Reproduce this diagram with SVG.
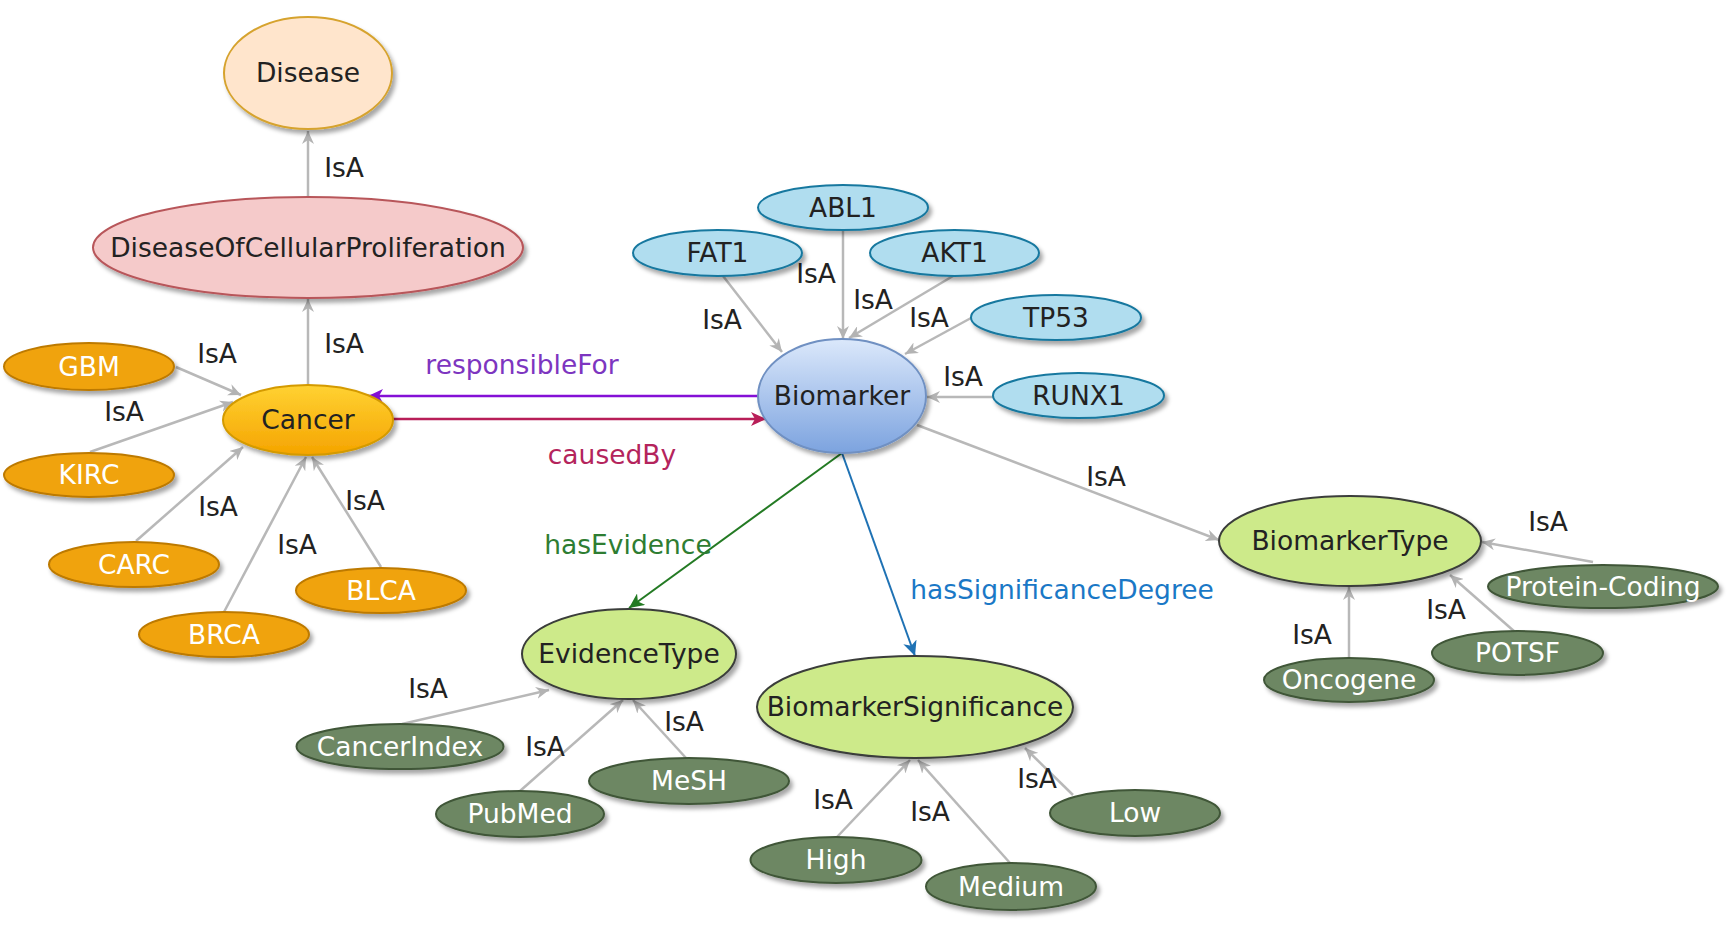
<svg xmlns="http://www.w3.org/2000/svg" width="1733" height="926" viewBox="0 0 1733 926">
<defs>
<filter id="sh" x="-20%" y="-20%" width="150%" height="160%">
<feDropShadow dx="3" dy="4" stdDeviation="2" flood-color="#000" flood-opacity="0.35"/>
</filter>
<linearGradient id="gCancer" x1="0" y1="0" x2="0" y2="1">
<stop offset="0" stop-color="#ffd233"/>
<stop offset="1" stop-color="#f5a400"/>
</linearGradient>
<linearGradient id="gBio" x1="0" y1="0" x2="0" y2="1">
<stop offset="0" stop-color="#dbe8fb"/>
<stop offset="1" stop-color="#7ca3df"/>
</linearGradient>
<marker id="aIsA" markerUnits="userSpaceOnUse" markerWidth="14" markerHeight="12" refX="13" refY="6" orient="auto">
<path d="M0,0 L13,6 L0,12 L4,6 z" fill="#b3b3b3"/>
</marker>
<marker id="aPur" markerUnits="userSpaceOnUse" markerWidth="16" markerHeight="14" refX="15" refY="7" orient="auto">
<path d="M0,0 L15,7 L0,14 L4,7 z" fill="#8410d6"/>
</marker>
<marker id="aRed" markerUnits="userSpaceOnUse" markerWidth="16" markerHeight="14" refX="15" refY="7" orient="auto">
<path d="M0,0 L15,7 L0,14 L4,7 z" fill="#b81e58"/>
</marker>
<marker id="aGrn" markerUnits="userSpaceOnUse" markerWidth="16" markerHeight="14" refX="15" refY="7" orient="auto">
<path d="M0,0 L15,7 L0,14 L4,7 z" fill="#237a23"/>
</marker>
<marker id="aBlu" markerUnits="userSpaceOnUse" markerWidth="16" markerHeight="14" refX="15" refY="7" orient="auto">
<path d="M0,0 L15,7 L0,14 L4,7 z" fill="#1f72b4"/>
</marker>
</defs>
<style>
text { font-family: "DejaVu Sans", Verdana, sans-serif; font-size: 26.5px; text-anchor: middle; }
.n ellipse { filter: url(#sh); stroke-width: 2; }
.lbl { fill: #222; }
.wt { fill: #fff; }
.dis { fill: #ffe5cc; stroke: #d6a32e; }
.docp { fill: #f5caca; stroke: #b8565a; }
.can { fill: url(#gCancer); stroke: #d49a00; }
.org { fill: #f0a30a; stroke: #bd7a05; }
.gene { fill: #b0ddef; stroke: #18789f; }
.bio { fill: url(#gBio); stroke: #6f90c2; }
.cls { fill: #cdea8a; stroke: #3a3d3a; }
.inst { fill: #6d8764; stroke: #3f5637; }
.isa { stroke: #b8b8b8; stroke-width: 2.5; fill: none; marker-end: url(#aIsA); }
.el { fill: #222; }
</style>

<g id="connectors">
<line class="isa" x1="308" y1="197" x2="308" y2="131"/>
<line class="isa" x1="308" y1="385" x2="308" y2="299"/>
<line class="isa" x1="176" y1="367" x2="241" y2="395"/>
<line class="isa" x1="90" y1="452" x2="233" y2="402"/>
<line class="isa" x1="136" y1="541" x2="243" y2="447"/>
<line class="isa" x1="224" y1="612" x2="306" y2="457"/>
<line class="isa" x1="381" y1="567" x2="312" y2="457"/>
<line class="isa" x1="723" y1="276" x2="782" y2="352"/>
<line class="isa" x1="843" y1="230" x2="843" y2="339"/>
<line class="isa" x1="953" y1="276" x2="849" y2="338"/>
<line class="isa" x1="971" y1="318" x2="905" y2="354"/>
<line class="isa" x1="993" y1="397" x2="927" y2="397"/>
<line class="isa" x1="917" y1="425" x2="1219" y2="540"/>
<line class="isa" x1="1593" y1="562" x2="1482" y2="542"/>
<line class="isa" x1="1515" y1="632" x2="1450" y2="575"/>
<line class="isa" x1="1349" y1="658" x2="1349" y2="587"/>
<line class="isa" x1="402" y1="724" x2="549" y2="690"/>
<line class="isa" x1="520" y1="791" x2="623" y2="700"/>
<line class="isa" x1="686" y1="758" x2="633" y2="700"/>
<line class="isa" x1="837" y1="837" x2="910" y2="760"/>
<line class="isa" x1="1010" y1="863" x2="918" y2="760"/>
<line class="isa" x1="1073" y1="795" x2="1025" y2="748"/>
<line x1="758" y1="396" x2="368" y2="396" stroke="#8410d6" stroke-width="2.5" marker-end="url(#aPur)"/>
<line x1="393" y1="419" x2="766" y2="419" stroke="#b81e58" stroke-width="2.5" marker-end="url(#aRed)"/>
<line x1="842" y1="453" x2="629" y2="608" stroke="#237a23" stroke-width="2" marker-end="url(#aGrn)"/>
<line x1="842" y1="453" x2="915" y2="656" stroke="#1f72b4" stroke-width="2" marker-end="url(#aBlu)"/>
<g class="el">
<text x="344" y="168" dy="0.35em">IsA</text>
<text x="344" y="344" dy="0.35em">IsA</text>
<text x="217" y="354" dy="0.35em">IsA</text>
<text x="124" y="412" dy="0.35em">IsA</text>
<text x="218" y="507" dy="0.35em">IsA</text>
<text x="297" y="545" dy="0.35em">IsA</text>
<text x="365" y="501" dy="0.35em">IsA</text>
<text x="722" y="320" dy="0.35em">IsA</text>
<text x="816" y="274" dy="0.35em">IsA</text>
<text x="873" y="300" dy="0.35em">IsA</text>
<text x="929" y="318" dy="0.35em">IsA</text>
<text x="963" y="377" dy="0.35em">IsA</text>
<text x="1106" y="477" dy="0.35em">IsA</text>
<text x="1548" y="522" dy="0.35em">IsA</text>
<text x="1446" y="610" dy="0.35em">IsA</text>
<text x="1312" y="635" dy="0.35em">IsA</text>
<text x="428" y="689" dy="0.35em">IsA</text>
<text x="545" y="747" dy="0.35em">IsA</text>
<text x="684" y="722" dy="0.35em">IsA</text>
<text x="833" y="800" dy="0.35em">IsA</text>
<text x="930" y="812" dy="0.35em">IsA</text>
<text x="1037" y="779" dy="0.35em">IsA</text>
</g>
<text x="522" y="365" dy="0.35em" fill="#7d35c0">responsibleFor</text>
<text x="612" y="455" dy="0.35em" fill="#b4245c">causedBy</text>
<text x="628" y="545" dy="0.35em" fill="#2e7d32">hasEvidence</text>
<text x="1062" y="590" dy="0.35em" fill="#1a78c6">hasSignificanceDegree</text>
</g>

<g id="Disease" class="n"><ellipse class="dis" cx="308" cy="73" rx="84" ry="56"/><text class="lbl" x="308" y="73" dy="0.35em">Disease</text></g>
<g id="DiseaseOfCellularProliferation" class="n"><ellipse class="docp" cx="308" cy="247.5" rx="215" ry="50.5"/><text class="lbl" x="308" y="247.5" dy="0.35em">DiseaseOfCellularProliferation</text></g>
<g id="Cancer" class="n"><ellipse class="can" cx="308" cy="420" rx="85" ry="35"/><text class="lbl" x="308" y="420" dy="0.35em">Cancer</text></g>
<g id="GBM" class="n"><ellipse class="org" cx="89" cy="366.5" rx="85" ry="23.5"/><text class="wt" x="89" y="366.5" dy="0.35em">GBM</text></g>
<g id="KIRC" class="n"><ellipse class="org" cx="89" cy="475" rx="85" ry="22"/><text class="wt" x="89" y="475" dy="0.35em">KIRC</text></g>
<g id="CARC" class="n"><ellipse class="org" cx="134" cy="564.5" rx="85" ry="22.5"/><text class="wt" x="134" y="564.5" dy="0.35em">CARC</text></g>
<g id="BRCA" class="n"><ellipse class="org" cx="224" cy="634.5" rx="85" ry="22.5"/><text class="wt" x="224" y="634.5" dy="0.35em">BRCA</text></g>
<g id="BLCA" class="n"><ellipse class="org" cx="381" cy="590.5" rx="85" ry="22.5"/><text class="wt" x="381" y="590.5" dy="0.35em">BLCA</text></g>
<g id="Biomarker" class="n"><ellipse class="bio" cx="842" cy="396" rx="84" ry="57"/><text class="lbl" x="842" y="396" dy="0.35em">Biomarker</text></g>
<g id="ABL1" class="n"><ellipse class="gene" cx="843" cy="207.5" rx="85" ry="22.5"/><text class="lbl" x="843" y="207.5" dy="0.35em">ABL1</text></g>
<g id="FAT1" class="n"><ellipse class="gene" cx="717.5" cy="253" rx="84.5" ry="23"/><text class="lbl" x="717.5" y="253" dy="0.35em">FAT1</text></g>
<g id="AKT1" class="n"><ellipse class="gene" cx="954.5" cy="253" rx="84.5" ry="23"/><text class="lbl" x="954.5" y="253" dy="0.35em">AKT1</text></g>
<g id="TP53" class="n"><ellipse class="gene" cx="1056" cy="317.5" rx="85" ry="22.5"/><text class="lbl" x="1056" y="317.5" dy="0.35em">TP53</text></g>
<g id="RUNX1" class="n"><ellipse class="gene" cx="1078.5" cy="395.5" rx="85.5" ry="22.5"/><text class="lbl" x="1078.5" y="395.5" dy="0.35em">RUNX1</text></g>
<g id="EvidenceType" class="n"><ellipse class="cls" cx="629" cy="654" rx="107" ry="45"/><text class="lbl" x="629" y="654" dy="0.35em">EvidenceType</text></g>
<g id="CancerIndex" class="n"><ellipse class="inst" cx="400" cy="746.5" rx="103.5" ry="22.5"/><text class="wt" x="400" y="746.5" dy="0.35em">CancerIndex</text></g>
<g id="PubMed" class="n"><ellipse class="inst" cx="520" cy="814" rx="84" ry="23"/><text class="wt" x="520" y="814" dy="0.35em">PubMed</text></g>
<g id="MeSH" class="n"><ellipse class="inst" cx="689" cy="781" rx="100" ry="23"/><text class="wt" x="689" y="781" dy="0.35em">MeSH</text></g>
<g id="BiomarkerSignificance" class="n"><ellipse class="cls" cx="915" cy="707" rx="158" ry="51"/><text class="lbl" x="915" y="707" dy="0.35em">BiomarkerSignificance</text></g>
<g id="High" class="n"><ellipse class="inst" cx="836" cy="860" rx="85.5" ry="23"/><text class="wt" x="836" y="860" dy="0.35em">High</text></g>
<g id="Medium" class="n"><ellipse class="inst" cx="1011" cy="886.5" rx="85" ry="23.5"/><text class="wt" x="1011" y="886.5" dy="0.35em">Medium</text></g>
<g id="Low" class="n"><ellipse class="inst" cx="1135" cy="813" rx="85" ry="23"/><text class="wt" x="1135" y="813" dy="0.35em">Low</text></g>
<g id="BiomarkerType" class="n"><ellipse class="cls" cx="1350" cy="541" rx="131" ry="45"/><text class="lbl" x="1350" y="541" dy="0.35em">BiomarkerType</text></g>
<g id="Protein-Coding" class="n"><ellipse class="inst" cx="1603" cy="586.5" rx="115" ry="21.5"/><text class="wt" x="1603" y="586.5" dy="0.35em">Protein-Coding</text></g>
<g id="POTSF" class="n"><ellipse class="inst" cx="1517.5" cy="653" rx="85.5" ry="22"/><text class="wt" x="1517.5" y="653" dy="0.35em">POTSF</text></g>
<g id="Oncogene" class="n"><ellipse class="inst" cx="1349" cy="680" rx="85" ry="22"/><text class="wt" x="1349" y="680" dy="0.35em">Oncogene</text></g>
</svg>
